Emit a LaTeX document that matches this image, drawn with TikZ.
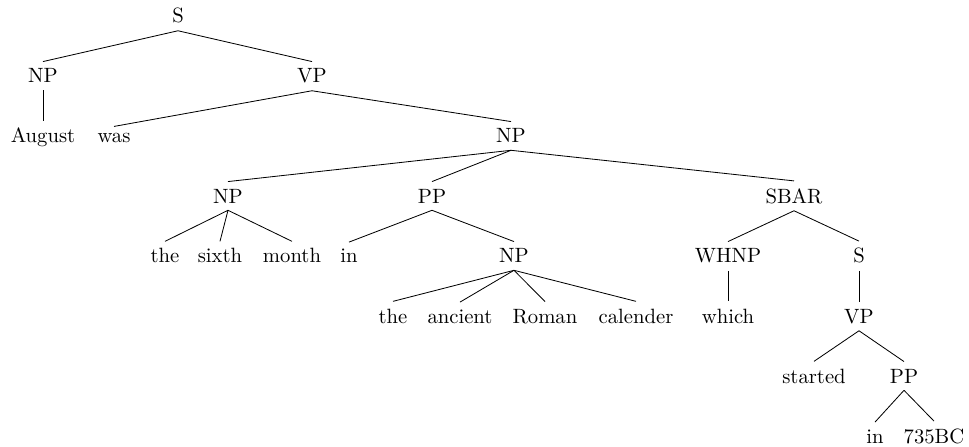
\documentclass[tikz,border=0pt]{standalone}
\usepackage{tikz}

\begin{document}
\tikzset{word/.style={anchor=base}}
\begin{tikzpicture}[x=0.017cm,y=-0.017cm]
        \useasboundingbox (0,0) rectangle (969,447);
        \node[word] (s) at (178,23) {S};
        \node[word] (np) at (43,83) {NP};
        \node[word] (vp) at (312,83) {VP};
        \node[word] (august) at (43,143) {August};
        \node[word] (was) at (114,143) {was};
        \node[word] (np2) at (511,143) {NP};
        \node[word] (np3) at (228,203) {NP};
        \node[word] (pp) at (432,203) {PP};
        \node[word] (sbar) at (794,203) {SBAR};
        \node[word] (the) at (165,263) {the};
        \node[word] (sixth) at (220,263) {sixth};
        \node[word] (month) at (292,263) {month};
        \node[word] (in) at (349,263) {in};
        \node[word] (np4) at (514,263) {NP};
        \node[word] (whnp) at (728,263) {WHNP};
        \node[word] (s2) at (859,263) {S};
        \node[word] (the2) at (393,323) {the};
        \node[word] (ancient) at (460,323) {ancient};
        \node[word] (roman) at (545,323) {Roman};
        \node[word] (calender) at (636,323) {calender};
        \node[word] (which) at (728,323) {which};
        \node[word] (vp2) at (859,323) {VP};
        \node[word] (started) at (814,383) {started};
        \node[word] (pp2) at (904,383) {PP};
        \node[word] (in2) at (875,443) {in};
        \node[word] (bc) at (934,443) {735BC};
        \draw (s.south) -- (np.north);
        \draw (s.south) -- (vp.north);
        \draw (np.south) -- (august.north);
        \draw (vp.south) -- (was.north);
        \draw (vp.south) -- (np2.north);
        \draw (np2.south) -- (np3.north);
        \draw (np2.south) -- (pp.north);
        \draw (np2.south) -- (sbar.north);
        \draw (np3.south) -- (the.north);
        \draw (np3.south) -- (sixth.north);
        \draw (np3.south) -- (month.north);
        \draw (pp.south) -- (in.north);
        \draw (pp.south) -- (np4.north);
        \draw (np4.south) -- (the2.north);
        \draw (np4.south) -- (ancient.north);
        \draw (np4.south) -- (roman.north);
        \draw (np4.south) -- (calender.north);
        \draw (sbar.south) -- (whnp.north);
        \draw (sbar.south) -- (s2.north);
        \draw (whnp.south) -- (which.north);
        \draw (s2.south) -- (vp2.north);
        \draw (vp2.south) -- (started.north);
        \draw (vp2.south) -- (pp2.north);
        \draw (pp2.south) -- (in2.north);
        \draw (pp2.south) -- (bc.north);
    \end{tikzpicture}
\end{document}
